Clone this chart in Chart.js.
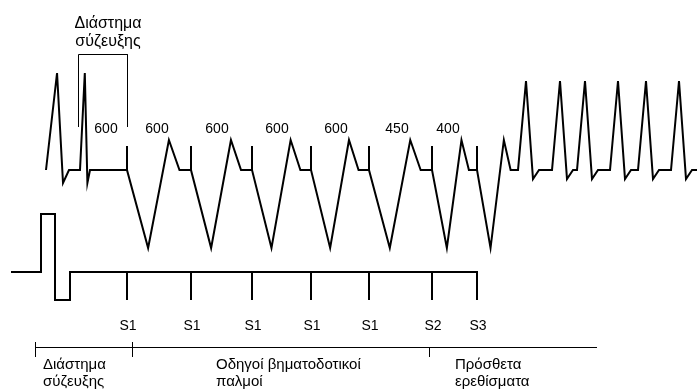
<!DOCTYPE html>
<html>
<head>
<meta charset="utf-8">
<script src="https://cdn.jsdelivr.net/npm/chart.js@4/dist/chart.umd.min.js"></script>
<style>
  html, body { margin: 0; padding: 0; background: #ffffff; }
  #wrap { width: 697px; height: 389px; position: relative; }
</style>
</head>
<body>
<div id="wrap"><canvas id="c" width="697" height="389"></canvas></div>
<script>
// ---- data (time axis in px-equivalent units, levels in px-equivalent units) ----
const intrinsicOnsets = [46, 80];
const intrinsicWidths = [23, 10];
const pulseTimes = [127, 191, 252, 311, 369, 432, 477];
const pulseLabels = ["S1", "S1", "S1", "S1", "S1", "S2", "S3"];
const intervalLabels = ["600", "600", "600", "600", "600", "450", "400"];
const intervalLabelTimes = [106, 157, 217, 277, 336, 397, 448];
const tachyOnsets = [518, 552, 577, 610, 638, 671];
const upperLevels = { base: 170, intrinsicPeak: 73, intrinsicTrough: 183, spikeTop: 146, pacedTrough: 248, pacedPeak: 140, tachyPeak: 81, tachyTrough: 179 };
const lowerLevels = { base: 272, high: 214, low: 300 };
const lowerStart = 11;
const lowerMarkerEdges = [41, 55, 70];
const couplingBracket = [78, 127];
const phaseBounds = [35, 132, 429, 597];
const phaseLabels = [["Διάστημα", "σύζευξης"], ["Οδηγοί βηματοδοτικοί", "παλμοί"], ["Πρόσθετα", "ερεθίσματα"]];
const phaseLabelTimes = [43, 216, 455];
const couplingTitle = ["Διάστημα", "σύζευξης"];
const couplingTitleTime = 108;
const traceEnd = 697;

// ---- build the traces ----
const L = upperLevels;
const upper = [];
intrinsicOnsets.forEach((o, i) => {
  const w = intrinsicWidths[i];
  upper.push({x: o, y: L.base}, {x: o + 0.48 * w, y: L.intrinsicPeak}, {x: o + 0.74 * w, y: L.intrinsicTrough}, {x: o + w, y: L.base});
});
pulseTimes.forEach((s, i) => {
  const next = i + 1 < pulseTimes.length ? pulseTimes[i + 1] : tachyOnsets[0];
  const g = next - s;
  upper.push({x: s, y: L.base}, {x: s, y: L.spikeTop}, {x: s, y: L.base},
             {x: s + 0.33 * g, y: L.pacedTrough}, {x: s + 0.655 * g, y: L.pacedPeak},
             {x: s + 0.82 * g, y: L.base});
});
tachyOnsets.forEach(o => {
  upper.push({x: o, y: L.base}, {x: o + 8, y: L.tachyPeak}, {x: o + 15, y: L.tachyTrough}, {x: o + 21, y: L.base});
});
upper.push({x: traceEnd, y: L.base});

const LL = lowerLevels;
const lastPulse = pulseTimes[pulseTimes.length - 1];
const lower = [
  {x: lowerStart, y: LL.base}, {x: lowerMarkerEdges[0], y: LL.base}, {x: lowerMarkerEdges[0], y: LL.high},
  {x: lowerMarkerEdges[1], y: LL.high}, {x: lowerMarkerEdges[1], y: LL.low}, {x: lowerMarkerEdges[2], y: LL.low},
  {x: lowerMarkerEdges[2], y: LL.base}, {x: lastPulse, y: LL.base}, {x: lastPulse, y: LL.low}
];
const ticks = [];
pulseTimes.slice(0, -1).forEach(s => { ticks.push({x: s, y: LL.base}, {x: s, y: LL.low}, {x: s, y: null}); });

// thin (1px) annotation lines, offset by half a unit so they land on whole pixels
const h = 0.5;
const bracketTop = 54, bracketBottom = 127;
const bracket = [
  {x: couplingBracket[0] + h, y: bracketBottom}, {x: couplingBracket[0] + h, y: bracketTop + h},
  {x: couplingBracket[1] + h, y: bracketTop + h}, {x: couplingBracket[1] + h, y: bracketBottom}
];
const timelineY = 347 + h;
const timeline = [{x: phaseBounds[0], y: timelineY}, {x: phaseBounds[3], y: timelineY}, {x: null, y: null}];
phaseBounds.slice(0, 2).forEach(b => { timeline.push({x: b + h, y: 342}, {x: b + h, y: 357}, {x: b, y: null}); });
timeline.push({x: phaseBounds[2] + h, y: timelineY}, {x: phaseBounds[2] + h, y: 357});

const FONT = '"Liberation Sans", Arial, Helvetica, sans-serif';
const labelsPlugin = {
  id: 'labels',
  afterDatasetsDraw(chart) {
    const {ctx, scales: {x, y}} = chart;
    ctx.save();
    ctx.fillStyle = '#000';
    ctx.textBaseline = 'alphabetic';
    // coupling interval title
    ctx.font = '16px ' + FONT;
    ctx.textAlign = 'center';
    const cx = x.getPixelForValue(couplingTitleTime);
    ctx.fillText(couplingTitle[0], cx, y.getPixelForValue(28));
    ctx.fillText(couplingTitle[1], cx, y.getPixelForValue(46));
    // interval numbers
    ctx.font = '14px ' + FONT;
    intervalLabels.forEach((t, i) => ctx.fillText(t, x.getPixelForValue(intervalLabelTimes[i]), y.getPixelForValue(133)));
    // pulse labels
    pulseLabels.forEach((t, i) => ctx.fillText(t, x.getPixelForValue(pulseTimes[i] + 1), y.getPixelForValue(330)));
    // phase labels
    ctx.font = '15px ' + FONT;
    ctx.textAlign = 'left';
    phaseLabels.forEach((lines, i) => {
      ctx.fillText(lines[0], x.getPixelForValue(phaseLabelTimes[i]), y.getPixelForValue(369));
      ctx.fillText(lines[1], x.getPixelForValue(phaseLabelTimes[i]), y.getPixelForValue(386));
    });
    ctx.restore();
  }
};

const lineDs = (data, w) => ({
  data, borderColor: '#000', borderWidth: w, pointRadius: 0, showLine: true,
  fill: false, tension: 0, spanGaps: false, borderJoinStyle: 'miter', borderCapStyle: 'butt'
});

new Chart(document.getElementById('c'), {
  type: 'scatter',
  data: {
    datasets: [
      lineDs(upper, 2),
      lineDs(lower, 2),
      lineDs(ticks, 2),
      lineDs(bracket, 1),
      lineDs(timeline, 1)
    ]
  },
  options: {
    responsive: false,
    animation: false,
    devicePixelRatio: 1,
    layout: { padding: 0 },
    plugins: { legend: { display: false }, tooltip: { enabled: false } },
    scales: {
      x: { type: 'linear', min: 0, max: 697, display: false },
      y: { type: 'linear', min: 0, max: 389, reverse: true, display: false }
    }
  },
  plugins: [labelsPlugin]
});
</script>
</body>
</html>
